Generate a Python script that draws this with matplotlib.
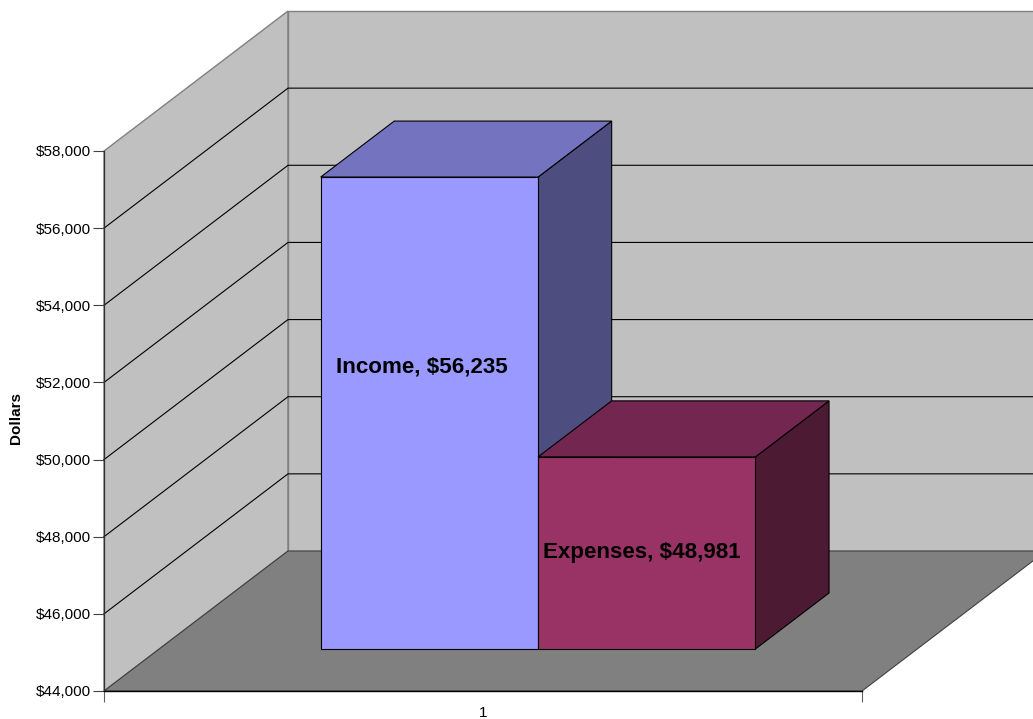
import matplotlib
matplotlib.use("Agg")
import matplotlib.pyplot as plt
from matplotlib.patches import Polygon

# Data
series_names = ["Income", "Expenses"]
series_values = [56235, 48981]
category_labels = ["1"]
y_ticks = [44000, 46000, 48000, 50000, 52000, 54000, 56000, 58000]
axis_title = "Dollars"

# Style and layout
plt.rcParams["font.family"] = ["Liberation Sans", "DejaVu Sans"]
W, H = 1033, 719
FRONT_L, FRONT_R, FRONT_T, FRONT_B = 104, 862, 151, 691
Y_MIN, Y_MAX = y_ticks[0], y_ticks[-1]
DX = 184 / (FRONT_R - FRONT_L)
DY = 140 / ((FRONT_B - FRONT_T) / (Y_MAX - Y_MIN))
BAR_X0 = 0.2130
BAR_W = 0.2868
D0, D1 = 0.30, 0.70
face = ["#9999FF", "#993366"]
top = ["#7373BF", "#732650"]
side = ["#4D4D80", "#4D1A33"]
label_pos = [(0.4189, 52400), (0.7098, 47600)]


def P(x, v, d=0.0):
    return (x + DX * d, v + DY * d)


fig = plt.figure(figsize=(W / 100, H / 100), dpi=100, facecolor="white")
ax = fig.add_axes([FRONT_L / W, (H - FRONT_B) / H,
                   (FRONT_R - FRONT_L) / W, (FRONT_B - FRONT_T) / H])
ax.set_xlim(0, 1)
ax.set_ylim(Y_MIN, Y_MAX)
ax.patch.set_visible(False)


def poly(points, fc, ec, lw=1.0, z=2):
    ax.add_patch(Polygon(points, closed=True, facecolor=fc, edgecolor=ec,
                         linewidth=lw, zorder=z, clip_on=False, joinstyle="miter"))


# Walls
poly([P(0, Y_MIN), P(0, Y_MAX), P(0, Y_MAX, 1), P(0, Y_MIN, 1)], "#C0C0C0", "#808080", 1.0, 1)
poly([P(0, Y_MIN, 1), P(0, Y_MAX, 1), P(1, Y_MAX, 1), P(1, Y_MIN, 1)], "#C0C0C0", "#808080", 1.0, 1)

# Gridlines on both walls
for v in y_ticks[1:-1]:
    a, b, c = P(0, v), P(0, v, 1), P(1, v, 1)
    ax.plot([a[0], b[0], c[0]], [a[1], b[1], c[1]], color="#000000", lw=0.8,
            zorder=1.5, clip_on=False, solid_joinstyle="miter")

# Floor
poly([P(0, Y_MIN), P(1, Y_MIN), P(1, Y_MIN, 1), P(0, Y_MIN, 1)], "#808080", "#404040", 0.8, 1.8)

# Bars
for i, val in enumerate(series_values):
    x0 = BAR_X0 + i * BAR_W
    x1 = x0 + BAR_W
    z = 3 + i
    poly([P(x1, Y_MIN, D0), P(x1, Y_MIN, D1), P(x1, val, D1), P(x1, val, D0)], side[i], "#000000", 0.8, z)
    poly([P(x0, val, D0), P(x1, val, D0), P(x1, val, D1), P(x0, val, D1)], top[i], "#000000", 0.8, z)
    poly([P(x0, Y_MIN, D0), P(x1, Y_MIN, D0), P(x1, val, D0), P(x0, val, D0)], face[i], "#000000", 0.8, z)
    ax.text(label_pos[i][0], label_pos[i][1], f"{series_names[i]}, ${val:,}",
            fontsize=16.1, fontweight="bold", color="black", ha="center", va="center",
            zorder=10)

# Axes
for s in ("top", "right"):
    ax.spines[s].set_visible(False)
ax.spines["left"].set_color("#303030")
ax.spines["bottom"].set_color("#000000")
ax.spines["left"].set_linewidth(0.9)
ax.spines["bottom"].set_linewidth(1.0)
ax.spines["left"].set_zorder(2)
ax.spines["bottom"].set_zorder(2)

ax.set_yticks(y_ticks)
ax.set_yticklabels([f"${v:,}" for v in y_ticks], fontsize=11)
ax.tick_params(axis="y", length=8, width=0.8, color="#404040", pad=1.5)
ax.set_xticks([0, 1])
ax.set_xticklabels(["", ""])
ax.tick_params(axis="x", which="major", length=8, width=0.8, color="#606060")
ax.set_xticks([0.5], minor=True)
ax.set_xticklabels(category_labels, minor=True, fontsize=11)
ax.tick_params(axis="x", which="minor", length=0, pad=11)
ax.set_ylabel(axis_title, fontsize=11, fontweight="bold")
ax.yaxis.set_label_coords((23 - FRONT_L) / (FRONT_R - FRONT_L), (FRONT_B - 418) / (FRONT_B - FRONT_T))

fig.savefig("out.png", dpi=100, facecolor="white")
